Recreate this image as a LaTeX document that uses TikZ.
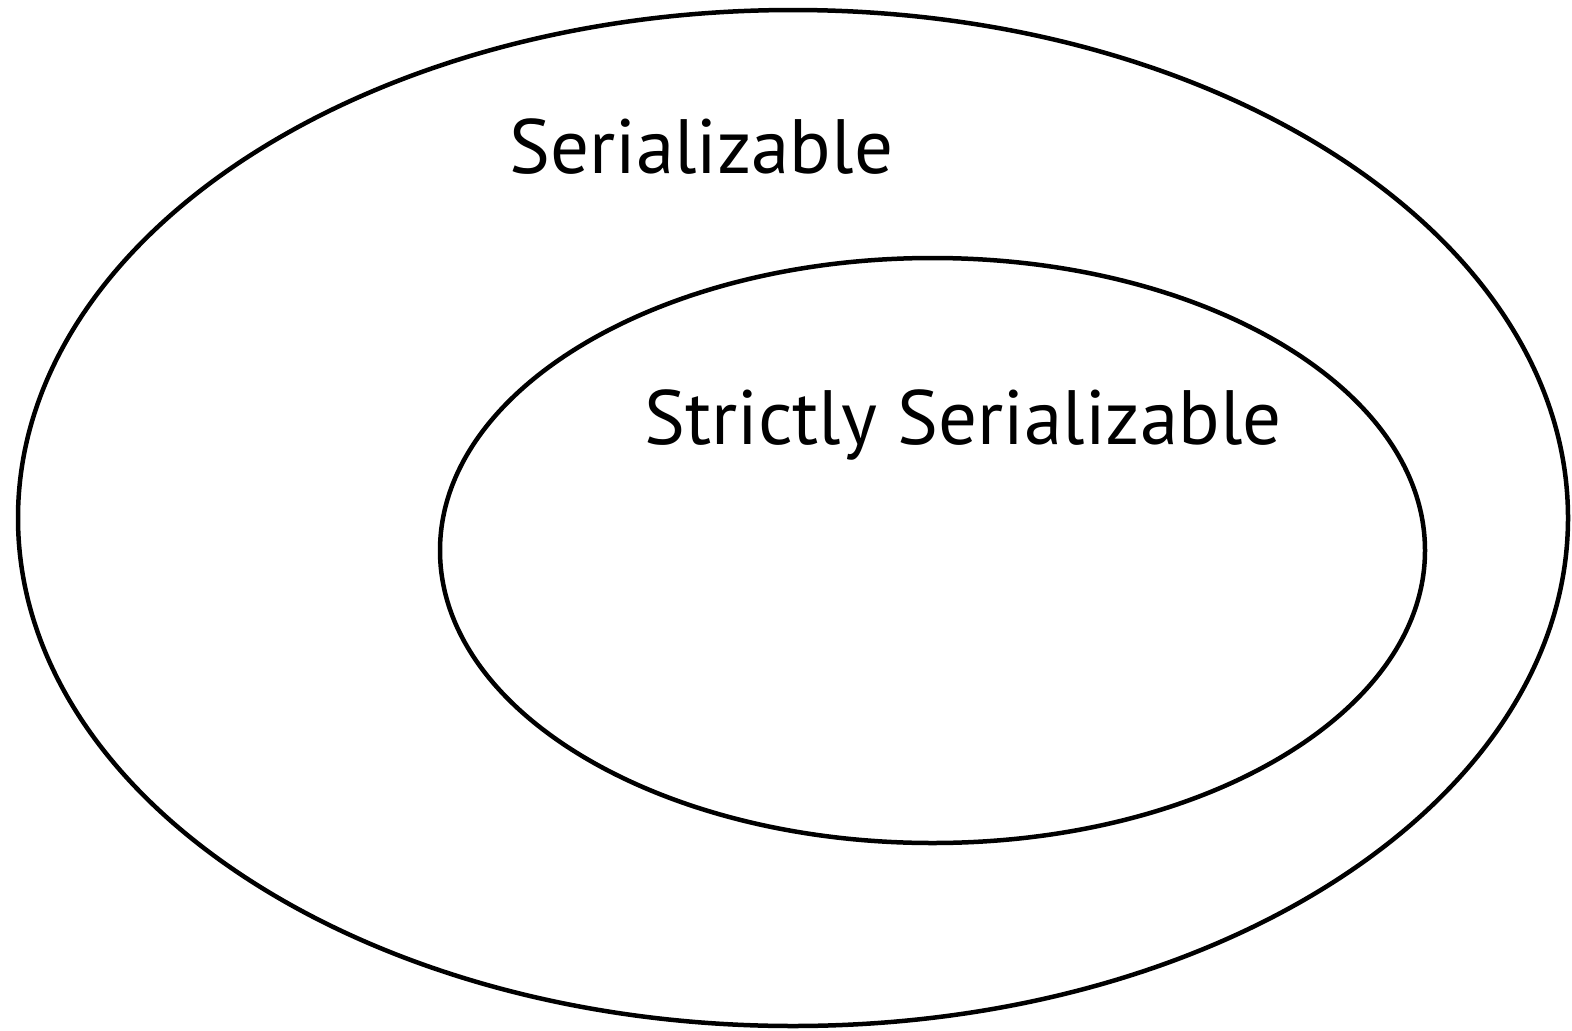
\documentclass[tikz,border=0pt]{standalone}
\usepackage{fontspec}
\setmainfont{PT Sans}
\begin{document}
\begin{tikzpicture}[x=1pt,y=-1pt,
  setline/.style={draw=black,line width=4.5pt},
  setlabel/.style={anchor=base west,inner sep=0pt,font=\fontsize{77}{80}\selectfont}]
\useasboundingbox (0,0) rectangle (1572,1031);
% outer set
\draw[setline] (793,518) ellipse [x radius=775, y radius=508];
% inner set
\draw[setline] (932.5,550.5) ellipse [x radius=492.5, y radius=292.5];
\node[setlabel] (ser) at (509,173) {Serializable};
\node[setlabel] (strict) at (644,444) {Strictly Serializable};
\end{tikzpicture}
\end{document}
